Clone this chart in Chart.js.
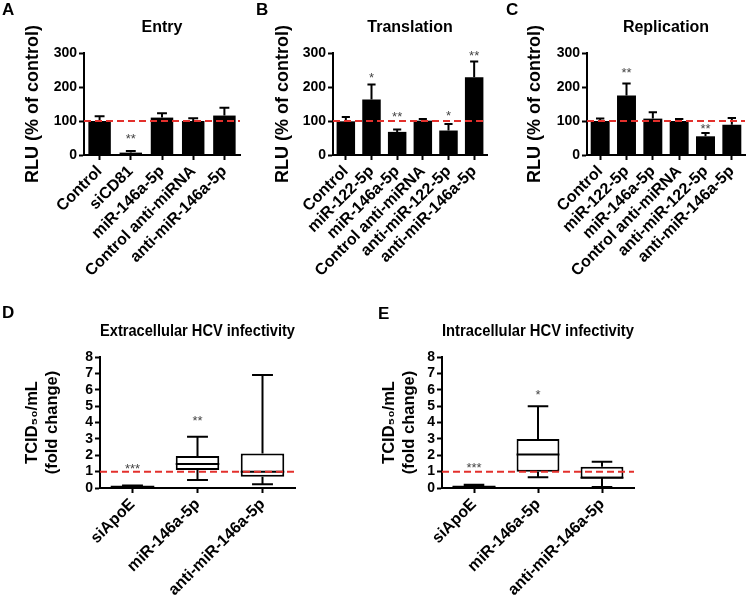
<!DOCTYPE html>
<html>
<head>
<meta charset="utf-8">
<script src="https://cdn.jsdelivr.net/npm/chart.js@4.4.1/dist/chart.umd.min.js"></script>
<style>
  body { margin: 0; background: #ffffff; }
  #page { position: relative; width: 750px; height: 602px; overflow: hidden; background: #ffffff; }
  #page canvas { position: absolute; }
  .letter { position: absolute; font: bold 17px 'Liberation Sans', Arial, sans-serif; line-height: 17px; color: #000; }
</style>
</head>
<body>
<div id="page">
  <canvas id="entryChart" width="250" height="285" style="left:0px;top:0px"></canvas>
  <canvas id="translationChart" width="250" height="285" style="left:250px;top:0px"></canvas>
  <canvas id="replicationChart" width="250" height="285" style="left:500px;top:0px"></canvas>
  <canvas id="extraChart" width="300" height="302" style="left:0px;top:300px"></canvas>
  <canvas id="intraChart" width="270" height="302" style="left:375px;top:300px"></canvas>
  <div class="letter" style="left:2px;top:1px">A</div>
  <div class="letter" style="left:256px;top:1px">B</div>
  <div class="letter" style="left:506px;top:1px">C</div>
  <div class="letter" style="left:2px;top:304px">D</div>
  <div class="letter" style="left:378px;top:305px">E</div>
</div>
<script>
// panel A - entry
const entryLabels = ['Control', 'siCD81', 'miR-146a-5p', 'Control anti-miRNA', 'anti-miR-146a-5p'];
const entryMean = [100, 7, 110, 100, 116];
const entryErr = [14, 5, 13, 8, 23];
const entryStars = ['', '**', '', '', ''];
const entryStarAt = [null, 57, null, null, null];

// panels B and C - translation / replication
const rnaLabels = ['Control', 'miR-122-5p', 'miR-146a-5p', 'Control anti-miRNA', 'anti-miR-122-5p', 'anti-miR-146a-5p'];
const translationMean = [99, 163, 68, 101, 72, 229];
const translationErr = [13, 44, 7, 5, 19, 46];
const translationStars = ['', '*', '**', '', '*', '**'];
const translationStarAt = [null, 236, 121, null, 124, 300];
const replicationMean = [100, 175, 107, 100, 55, 89];
const replicationErr = [7, 35, 19, 6, 10, 20];
const replicationStars = ['', '**', '', '', '**', ''];
const replicationStarAt = [null, 251, null, null, 85, null];

// panels D and E - infectivity box plots
const infectLabels = ['siApoE', 'miR-146a-5p', 'anti-miR-146a-5p'];
const extraMin = [0.02, 0.49, 0.23];
const extraQ1 = [0.04, 1.1, 0.69];
const extraMedian = [0.07, 1.46, 1.0];
const extraQ3 = [0.11, 1.95, 2.11];
const extraMax = [0.15, 3.13, 6.9];
const extraStars = ['***', '**', ''];
const extraStarAt = [1.36, 4.3, null];
const intraMin = [0.02, 0.65, 0.06];
const intraQ1 = [0.05, 1.0, 0.58];
const intraMedian = [0.08, 2.05, 0.63];
const intraQ3 = [0.12, 3.0, 1.3];
const intraMax = [0.2, 5.0, 1.6];
const intraStars = ['***', '*', ''];
const intraStarAt = [1.38, 5.87, null];

const fontFamily = "'Liberation Sans', Arial, sans-serif";
Chart.defaults.font.family = fontFamily;
Chart.defaults.color = '#000000';

function drawStar(ctx, text, x, yPix) {
    ctx.save();
    ctx.fillStyle = '#444444';
    ctx.font = '13px ' + fontFamily;
    ctx.textAlign = 'center';
    ctx.textBaseline = 'alphabetic';
    ctx.fillText(text, x, yPix + 7);
    ctx.restore();
}

const errorBars = {
    id: 'errorBars',
    afterDatasetsDraw(chart) {
        const { ctx } = chart;
        const y = chart.scales.y;
        const ds = chart.data.datasets[0];
        ctx.save();
        ctx.strokeStyle = '#000000';
        ctx.lineWidth = 2;
        chart.getDatasetMeta(0).data.forEach((bar, i) => {
            const top = y.getPixelForValue(ds.data[i] + ds.errors[i]);
            const half = bar.width * 0.22;
            ctx.beginPath();
            ctx.moveTo(bar.x, bar.y);
            ctx.lineTo(bar.x, top);
            ctx.moveTo(bar.x - half, top);
            ctx.lineTo(bar.x + half, top);
            ctx.stroke();
            if (ds.stars[i]) {
                drawStar(ctx, ds.stars[i], bar.x, y.getPixelForValue(ds.starAt[i]));
            }
        });
        ctx.restore();
    }
};

const whiskers = {
    id: 'whiskers',
    afterDatasetsDraw(chart) {
        const { ctx } = chart;
        const y = chart.scales.y;
        const ds = chart.data.datasets[0];
        ctx.save();
        ctx.strokeStyle = '#000000';
        ctx.lineWidth = 2;
        chart.getDatasetMeta(0).data.forEach((box, i) => {
            const left = box.x - box.width / 2;
            const right = box.x + box.width / 2;
            const half = box.width * 0.24;
            const med = y.getPixelForValue(ds.medians[i]);
            const lo = y.getPixelForValue(ds.mins[i]);
            const hi = y.getPixelForValue(ds.maxs[i]);
            const q1 = y.getPixelForValue(ds.data[i][0]);
            const q3 = y.getPixelForValue(ds.data[i][1]);
            ctx.beginPath();
            ctx.moveTo(left, med);
            ctx.lineTo(right, med);
            ctx.moveTo(box.x, q3);
            ctx.lineTo(box.x, hi);
            ctx.moveTo(box.x - half, hi);
            ctx.lineTo(box.x + half, hi);
            ctx.moveTo(box.x, q1);
            ctx.lineTo(box.x, lo);
            ctx.moveTo(box.x - half, lo);
            ctx.lineTo(box.x + half, lo);
            ctx.stroke();
            if (ds.stars[i]) {
                drawStar(ctx, ds.stars[i], box.x, y.getPixelForValue(ds.starAt[i]));
            }
        });
        ctx.restore();
    }
};

const refLine = {
    id: 'refLine',
    afterDatasetsDraw(chart, args, opts) {
        const { ctx, chartArea } = chart;
        const yPix = chart.scales.y.getPixelForValue(opts.value);
        ctx.save();
        ctx.strokeStyle = '#e3302c';
        ctx.lineWidth = 2;
        ctx.setLineDash([7, 4]);
        ctx.beginPath();
        ctx.moveTo(chartArea.left, yPix);
        ctx.lineTo(chartArea.right, yPix);
        ctx.stroke();
        ctx.restore();
    }
};

function axisGrid() {
    return {
        display: true,
        drawOnChartArea: false,
        drawTicks: true,
        tickLength: 5,
        tickWidth: 2,
        tickColor: '#000000',
        offset: false
    };
}

function axisBorder() {
    return { display: true, color: '#000000', width: 2 };
}

function xAxis(height) {
    return {
        offset: true,
        grid: axisGrid(),
        border: axisBorder(),
        ticks: {
            color: '#000000',
            font: { size: 16, weight: 'bold' },
            minRotation: 45,
            maxRotation: 45,
            autoSkip: false,
            padding: 2
        },
        afterFit: (scale) => { scale.height = height; }
    };
}

function rluChart(id, labels, means, errors, stars, starAt, title, yWidth, padRight, titlePad) {
    new Chart(document.getElementById(id).getContext('2d'), {
        type: 'bar',
        data: {
            labels: labels,
            datasets: [{
                data: means,
                errors: errors,
                stars: stars,
                starAt: starAt,
                backgroundColor: '#000000',
                borderWidth: 0,
                barPercentage: 0.72,
                categoryPercentage: 1.0
            }]
        },
        plugins: [errorBars, refLine],
        options: {
            responsive: false,
            animation: false,
            devicePixelRatio: 1,
            layout: { padding: { left: 0, right: padRight, top: 0, bottom: 0 } },
            plugins: {
                legend: { display: false },
                tooltip: { enabled: false },
                title: {
                    display: true,
                    text: title,
                    fullSize: false,
                    color: '#000000',
                    font: { size: 16, weight: 'bold' },
                    padding: { top: 18, bottom: 15.8 }
                },
                refLine: { value: 100 }
            },
            scales: {
                x: xAxis(130),
                y: {
                    min: 0,
                    max: 300,
                    grid: axisGrid(),
                    border: axisBorder(),
                    ticks: {
                        stepSize: 100,
                        autoSkip: false,
                        color: '#000000',
                        font: { size: 14, weight: 'bold' },
                        padding: 2
                    },
                    title: {
                        display: true,
                        text: 'RLU (% of control)',
                        color: '#000000',
                        font: { size: 18, weight: 'bold' },
                        padding: { top: titlePad, bottom: 0 }
                    },
                    afterFit: (scale) => { scale.width = yWidth; }
                }
            }
        }
    });
}

function boxChart(id, labels, mins, q1s, medians, q3s, maxs, stars, starAt, title, yWidth, padRight, titlePad) {
    new Chart(document.getElementById(id).getContext('2d'), {
        type: 'bar',
        data: {
            labels: labels,
            datasets: [{
                data: labels.map((_, i) => [q1s[i], q3s[i]]),
                mins: mins,
                medians: medians,
                maxs: maxs,
                stars: stars,
                starAt: starAt,
                backgroundColor: '#ffffff',
                borderColor: '#000000',
                borderWidth: 2,
                borderSkipped: false,
                barPercentage: 0.67,
                categoryPercentage: 1.0
            }]
        },
        plugins: [whiskers, refLine],
        options: {
            responsive: false,
            animation: false,
            devicePixelRatio: 1,
            layout: { padding: { left: 0, right: padRight, top: 0, bottom: 0 } },
            plugins: {
                legend: { display: false },
                tooltip: { enabled: false },
                title: {
                    display: true,
                    text: title,
                    fullSize: false,
                    color: '#000000',
                    font: { size: 16, weight: 'bold' },
                    padding: { top: 22.4, bottom: 15.4 }
                },
                refLine: { value: 1 }
            },
            scales: {
                x: xAxis(114),
                y: {
                    min: 0,
                    max: 8,
                    grid: axisGrid(),
                    border: axisBorder(),
                    ticks: {
                        stepSize: 1,
                        autoSkip: false,
                        color: '#000000',
                        font: { size: 14, weight: 'bold' },
                        padding: 2
                    },
                    title: {
                        display: true,
                        text: ['TCID\u2085\u2080/mL', '(fold change)'],
                        color: '#000000',
                        font: { size: 16.5, weight: 'bold' },
                        padding: { top: titlePad, bottom: 0 }
                    },
                    afterFit: (scale) => { scale.width = yWidth; }
                }
            }
        }
    });
}

rluChart('entryChart', entryLabels, entryMean, entryErr, entryStars, entryStarAt, 'Entry', 84, 10, 22.2);
rluChart('translationChart', rnaLabels, translationMean, translationErr, translationStars, translationStarAt, 'Translation', 83, 13, 22.2);
rluChart('replicationChart', rnaLabels, replicationMean, replicationErr, replicationStars, replicationStarAt, 'Replication', 87, 5, 24.2);

boxChart('extraChart', infectLabels, extraMin, extraQ1, extraMedian, extraQ3, extraMax, extraStars, extraStarAt,
    'Extracellular HCV infectivity', 100, 5, 22.6);
boxChart('intraChart', infectLabels, intraMin, intraQ1, intraMedian, intraQ3, intraMax, intraStars, intraStarAt,
    'Intracellular HCV infectivity', 67, 11, 5);
</script>
</body>
</html>
